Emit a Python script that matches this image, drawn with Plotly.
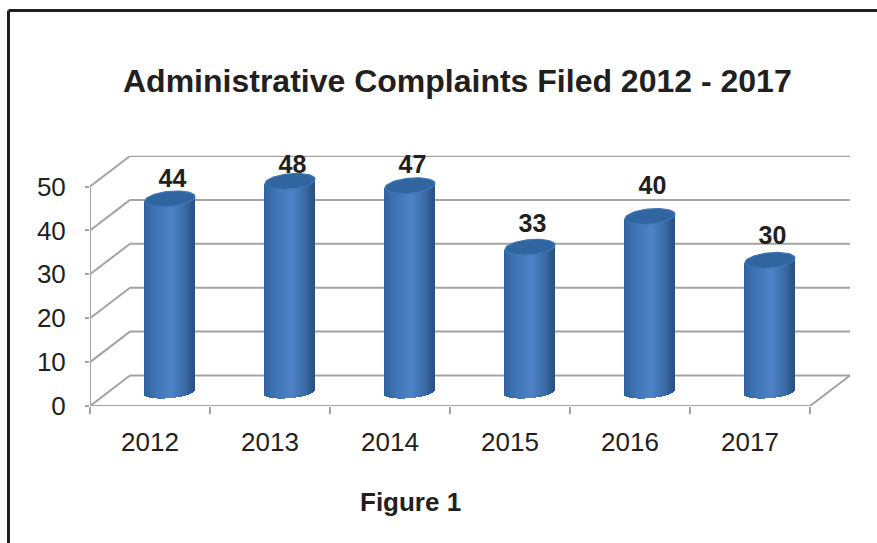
import math
import plotly.graph_objects as go

# ---- data ----
years = ["2012", "2013", "2014", "2015", "2016", "2017"]
complaints = [44, 48, 47, 33, 40, 30]
y_ticks = [0, 10, 20, 30, 40, 50]
title_text = "Administrative Complaints Filed 2012 - 2017"
caption_text = "Figure 1"

# ---- 3D look (in axis units) ----
W, H = 877, 543
X0, X1, Y0, Y1 = 90, 851, 406, 155.7      # plot window in pixels
PX_CAT = 120.0
PX_VAL = 4.39
DEPTH_X = 40 / PX_CAT
DEPTH_Y = 30.5 / PX_VAL
label_lift = [4.23, 3.22, 4.42, 4.89, 6.64, 5.12]
GRID = "#a3a3a3"
INK = "#231f20"
FONT = "Liberation Sans"
STRIPS = 50
HALF_W = 25.0 / PX_CAT
ELL_B_TOP = 7.6 / PX_VAL
ELL_B_BOTTOM = 5.8 / PX_VAL
ELL_TILT = 2.2 / PX_VAL


def mix(stops, t):
    for (a, ca), (b, cb) in zip(stops, stops[1:]):
        if t <= b:
            k = (t - a) / (b - a)
            return "rgb(%d,%d,%d)" % tuple(round(p + (q - p) * k) for p, q in zip(ca, cb))
    return "rgb(%d,%d,%d)" % stops[-1][1]


shade = [
    (0.0, (48, 96, 160)),
    (0.15, (58, 110, 175)),
    (0.55, (78, 132, 198)),
    (0.82, (58, 106, 166)),
    (1.0, (42, 80, 130)),
]

fig = go.Figure()

# walls and floor, under the bars
shapes = []
line = dict(color=GRID, width=2)
for v in y_ticks:
    shapes.append(dict(type="line", xref="x", yref="y", layer="below", line=line,
                       x0=-0.5, y0=v, x1=-0.5 + DEPTH_X, y1=v + DEPTH_Y))
    shapes.append(dict(type="line", xref="x", yref="y", layer="below", line=line,
                       x0=-0.5 + DEPTH_X, y0=v + DEPTH_Y, x1=5.5 + DEPTH_X, y1=v + DEPTH_Y))
shapes.append(dict(type="line", xref="x", yref="y", layer="below", line=line,
                   x0=-0.5, y0=0, x1=-0.5, y1=y_ticks[-1]))
shapes.append(dict(type="line", xref="x", yref="y", layer="below", line=line,
                   x0=-0.5, y0=0, x1=5.5, y1=0))
shapes.append(dict(type="line", xref="x", yref="y", layer="below", line=line,
                   x0=5.5, y0=0, x1=5.5 + DEPTH_X, y1=DEPTH_Y))
# page frame
frame = dict(color=INK, width=3)
shapes.append(dict(type="line", xref="paper", yref="paper", line=frame,
                   x0=8.5 / W, y0=1 - 10.5 / H, x1=1, y1=1 - 10.5 / H))
shapes.append(dict(type="line", xref="paper", yref="paper", line=frame,
                   x0=8.5 / W, y0=1 - 10.5 / H, x1=8.5 / W, y1=0))

# cylinders: one bar trace per year, built from vertical strips
cx = [i + DEPTH_X / 2 for i in range(len(years))]
floor = DEPTH_Y / 2 - 0.3
for i, year in enumerate(years):
    xs, bases, heights, colors = [], [], [], []
    for s in range(STRIPS):
        u = -1 + (s + 0.5) * 2 / STRIPS
        low = floor + ELL_TILT * u - ELL_B_BOTTOM * math.sqrt(1 - u * u)
        top = complaints[i] + floor + ELL_TILT * u
        xs.append(cx[i] + u * HALF_W)
        bases.append(low)
        heights.append(top - low)
        colors.append(mix(shade, (u + 1) / 2))
    fig.add_trace(go.Bar(x=xs, y=heights, base=bases, width=2.3 * HALF_W / STRIPS,
                         marker=dict(color=colors, line=dict(width=0)),
                         name=year, showlegend=False, hoverinfo="skip"))

# cylinder caps
cap_x, cap_y = [], []
for i in range(len(years)):
    for a in range(61):
        t = 2 * math.pi * a / 60
        u = math.cos(t)
        cap_x.append(cx[i] + u * HALF_W)
        cap_y.append(complaints[i] + floor + ELL_TILT * u + ELL_B_TOP * math.sin(t))
    cap_x.append(None)
    cap_y.append(None)
fig.add_trace(go.Scatter(x=cap_x, y=cap_y, mode="lines", fill="toself",
                         fillcolor="#30659f", line=dict(color="#3f77b8", width=1.2),
                         showlegend=False, hoverinfo="skip"))

# value labels
fig.add_trace(go.Scatter(
    x=[c + 0.02 for c in cx],
    y=[v + floor + l for v, l in zip(complaints, label_lift)],
    text=[str(v) for v in complaints], mode="text", textposition="middle center",
    textfont=dict(family=FONT, size=25, color=INK, weight="bold"),
    cliponaxis=False, showlegend=False, hoverinfo="skip"))

fig.update_layout(
    width=W, height=H, margin=dict(l=0, r=0, t=0, b=0, pad=0, autoexpand=False),
    paper_bgcolor="white", plot_bgcolor="rgba(0,0,0,0)",
    barmode="overlay", bargap=0, shapes=shapes,
    font=dict(family=FONT, color=INK),
    xaxis=dict(domain=[X0 / W, X1 / W], automargin=False,
               range=[-0.5, -0.5 + (X1 - X0) / PX_CAT],
               tickmode="array", tickvals=list(range(len(years))), ticktext=years,
               ticks="", showgrid=False, zeroline=False, showline=False,
               tickfont=dict(family=FONT, size=26, color=INK), ticklabelstandoff=18,
               minor=dict(tickmode="array", tickvals=[i - 0.5 for i in range(len(years) + 1)],
                          ticks="outside", ticklen=7, tickcolor=GRID, tickwidth=2,
                          showgrid=False)),
    yaxis=dict(domain=[1 - Y0 / H, 1 - Y1 / H], automargin=False,
               range=[0, (Y0 - Y1) / PX_VAL],
               tickmode="array", tickvals=y_ticks, ticks="outside", ticklen=4,
               tickcolor=GRID, tickwidth=2, showgrid=False, zeroline=False, showline=False,
               tickfont=dict(family=FONT, size=26, color=INK), ticklabelstandoff=14),
    annotations=[
        dict(text=title_text, xref="paper", yref="paper", x=457 / W, y=1 - 81 / H,
             showarrow=False, xanchor="center", yanchor="middle",
             font=dict(family=FONT, size=32, color=INK, weight="bold")),
        dict(text=caption_text, xref="paper", yref="paper", x=410 / W, y=1 - 502 / H,
             showarrow=False, xanchor="center", yanchor="middle",
             font=dict(family=FONT, size=26, color=INK, weight="bold")),
    ],
)

fig.write_html("out.html", config={"displayModeBar": False},
               post_script="document.body.style.margin='0';document.body.style.overflow='hidden';")
